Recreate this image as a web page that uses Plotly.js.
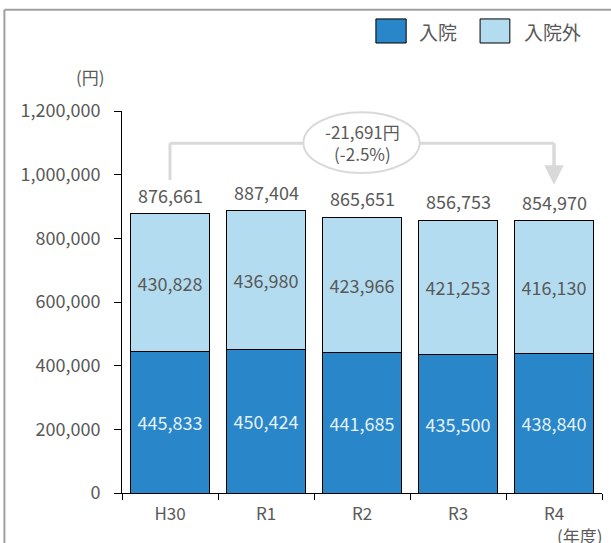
<!DOCTYPE html>
<html>
<head>
<meta charset="utf-8">
<script src="https://cdn.plot.ly/plotly-3.0.1.min.js"></script>
<style>
html,body{margin:0;padding:0;background:#fff;}
#chart{width:611px;height:543px;}
</style>
</head>
<body>
<div id="chart"></div>
<script>
const categories = ['H30', 'R1', 'R2', 'R3', 'R4'];
const inpatient = [445833, 450424, 441685, 435500, 438840];
const outpatient = [430828, 436980, 423966, 421253, 416130];
const seriesNames = ['入院', '入院外'];
const yTicks = [0, 200000, 400000, 600000, 800000, 1000000, 1200000];

const totals = inpatient.map((v, i) => v + outpatient[i]);
const fmt = v => v.toLocaleString('en-US');
const FONT = '"Noto Sans CJK JP", "Noto Sans", sans-serif';
const GRAY = '#595959';
const DARK = '#2986c8';
const LIGHT = '#b4dcf0';

const traces = [
  {
    type: 'bar', x: categories, y: inpatient, name: seriesNames[0],
    marker: {color: DARK, line: {color: '#000', width: 1}},
    text: inpatient.map(fmt), textposition: 'inside', insidetextanchor: 'middle',
    textfont: {family: FONT, size: 18, color: '#e3f1fa'}, hoverinfo: 'none', showlegend: false
  },
  {
    type: 'bar', x: categories, y: outpatient, name: seriesNames[1],
    marker: {color: LIGHT, line: {color: '#000', width: 1}},
    text: outpatient.map(fmt), textposition: 'inside', insidetextanchor: 'middle',
    textfont: {family: FONT, size: 18, color: GRAY}, hoverinfo: 'none', showlegend: false
  }
];

const first = totals[0], last = totals[totals.length - 1];
const diff = last - first;
const pct = (diff / first * 100).toFixed(1);

const annotations = totals.map((t, i) => ({
  x: categories[i], y: t, xref: 'x', yref: 'y', yanchor: 'bottom', yshift: 4,
  text: fmt(t), showarrow: false, font: {family: FONT, size: 18, color: GRAY}
}));

// bracket arrow head (right side)
annotations.push({
  x: 4, y: 968000, xref: 'x', yref: 'y', ax: 4, ay: 1099000, axref: 'x', ayref: 'y',
  showarrow: true, arrowhead: 2, arrowsize: 1.3, arrowwidth: 3, arrowcolor: '#d9d9d9', text: ''
});
// change label
annotations.push({
  x: 2, y: 1100000, xref: 'x', yref: 'y', showarrow: false,
  text: (diff < 0 ? '-' : '+') + fmt(Math.abs(diff)) + '円<br>(' + pct + '%)',
  font: {family: FONT, size: 17, color: GRAY}, align: 'center'
});

const layout = {
  width: 611, height: 543,
  margin: {l: 122, r: 9, t: 111, b: 50},
  paper_bgcolor: '#fff', plot_bgcolor: '#fff',
  barmode: 'stack', bargap: 0.17,
  font: {family: FONT, color: GRAY, size: 17},
  xaxis: {
    type: 'category', showline: true, linecolor: '#000', linewidth: 1,
    ticks: 'outside', ticklen: 6, tickcolor: '#000', tickson: 'boundaries',
    ticklabelstandoff: 6,
    tickfont: {family: FONT, size: 17, color: GRAY}, showgrid: false, zeroline: false,
    fixedrange: true
  },
  yaxis: {
    range: [0, 1200000], tickvals: yTicks, ticktext: yTicks.map(fmt),
    showline: true, linecolor: '#000', linewidth: 1,
    ticks: 'outside', ticklen: 7, tickcolor: '#000', ticklabelstandoff: 10,
    tickfont: {family: FONT, size: 18, color: GRAY}, showgrid: false, zeroline: false,
    fixedrange: true
  },
  showlegend: false,
  annotations: annotations.concat([
    {x: -0.031, y: 1.09, xref: 'paper', yref: 'paper', xanchor: 'right', yanchor: 'middle',
     text: '(円)', showarrow: false, font: {family: FONT, size: 17, color: GRAY}},
    {x: 1.006, y: -0.072, xref: 'paper', yref: 'paper', xanchor: 'right', yanchor: 'top',
     text: '(年度)', showarrow: false, font: {family: FONT, size: 17, color: GRAY}},
    {x: 0.615, y: 1.209, xref: 'paper', yref: 'paper', xanchor: 'left', yanchor: 'middle',
     text: seriesNames[0], showarrow: false, font: {family: FONT, size: 19, color: GRAY}},
    {x: 0.833, y: 1.209, xref: 'paper', yref: 'paper', xanchor: 'left', yanchor: 'middle',
     text: seriesNames[1], showarrow: false, font: {family: FONT, size: 19, color: GRAY}}
  ]),
  shapes: [
    // frame lines
    {type: 'line', xref: 'paper', yref: 'paper', x0: -0.245, x1: 1.1, y0: 1.265, y1: 1.265,
     line: {color: '#a0a0a0', width: 2}},
    {type: 'line', xref: 'paper', yref: 'paper', x0: -0.245, x1: -0.245, y0: 1.265, y1: -0.2,
     line: {color: '#a0a0a0', width: 2}},
    // bracket
    {type: 'line', xref: 'x', yref: 'y', x0: 0, x1: 0, y0: 983000, y1: 1099000,
     line: {color: '#d9d9d9', width: 3}},
    {type: 'line', xref: 'x', yref: 'y', x0: 0, x1: 4, y0: 1099000, y1: 1099000,
     line: {color: '#d9d9d9', width: 3}},
    {type: 'line', xref: 'x', yref: 'y', x0: 4, x1: 4, y0: 1099000, y1: 1020000,
     line: {color: '#d9d9d9', width: 3}},
    // ellipse
    {type: 'circle', xref: 'x', yref: 'y', x0: 1.39, x1: 2.6, y0: 1005000, y1: 1196000,
     fillcolor: '#fff', line: {color: '#d9d9d9', width: 2}, layer: 'above'},
    // legend boxes
    {type: 'rect', xref: 'paper', yref: 'paper', x0: 0.529, x1: 0.592, y0: 1.178, y1: 1.241,
     fillcolor: DARK, line: {color: '#000', width: 1}},
    {type: 'rect', xref: 'paper', yref: 'paper', x0: 0.746, x1: 0.808, y0: 1.178, y1: 1.241,
     fillcolor: LIGHT, line: {color: '#000', width: 1}}
  ]
};

Plotly.newPlot('chart', traces, layout, {displayModeBar: false, staticPlot: true});
</script>
</body>
</html>
